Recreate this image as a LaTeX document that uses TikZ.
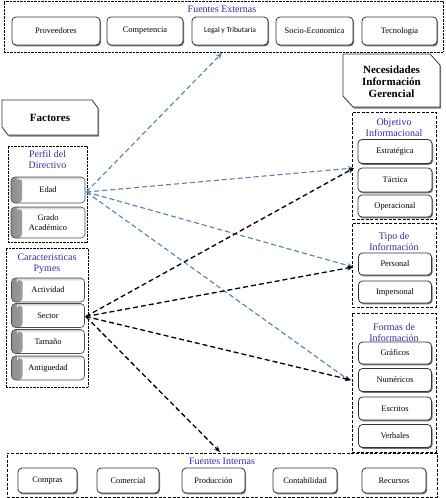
\documentclass[tikz,border=0pt]{standalone}
\usepackage{fontspec}
\setmainfont{Liberation Serif}
\newfontfamily\calib{Carlito}
\usetikzlibrary{shadows,arrows.meta,calc}
\definecolor{ttlblue}{RGB}{45,45,170}
\definecolor{arrblue}{RGB}{79,129,189}
\tikzset{
  sbox/.style={draw=black!80, line width=0.8pt, rounded corners=4pt, fill=white,
    drop shadow={shadow xshift=1pt, shadow yshift=-1.3pt, fill=black!65, opacity=0.85},
    inner sep=0pt, align=center, font=\fontsize{8.4}{9.5}\selectfont},
  lbox/.style={draw=black!70, line width=0.6pt, rounded corners=4pt, fill=white,
    path picture={\shade[left color=black!45, right color=white]
      (path picture bounding box.south west) rectangle ([xshift=11pt]path picture bounding box.north west);
      \shade[top color=black!20, bottom color=white]
      ([xshift=6pt]path picture bounding box.north west) rectangle ([yshift=-3pt]path picture bounding box.north east);},
    inner sep=0pt, align=center, font=\fontsize{8.4}{9.8}\selectfont},
  dotbox/.style={draw, line width=0.7pt, dash pattern=on 0.7pt off 0.7pt, inner sep=0pt},
  dashbox/.style={draw, line width=0.9pt, dash pattern=on 3pt off 1.6pt, inner sep=0pt},
  grptitle/.style={text=ttlblue, font=\fontsize{10}{11}\selectfont, align=center, inner sep=0pt},
  hdrshape/.style={draw=black!80, line width=0.8pt, fill=white,
    drop shadow={shadow xshift=1.2pt, shadow yshift=-1.5pt, fill=black!60, opacity=0.85}},
  hdrtext/.style={font=\fontsize{11}{12}\selectfont\bfseries, align=center, inner sep=0pt},
  barr/.style={arrblue, line width=1.1pt, dash pattern=on 5pt off 3pt, -{Stealth[length=6pt,width=5pt]}},
  karr/.style={black, line width=1.3pt, dash pattern=on 5pt off 3pt, -{Stealth[length=6pt,width=5pt]}},
}
\begin{document}
\begin{tikzpicture}[x=1pt,y=-1pt]
\useasboundingbox (0,0) rectangle (445,498);

% ---- Fuentes Externas ----
\node[dotbox, minimum width=439pt, minimum height=51pt] (ext) at (223.5,26.5) {};
\node[grptitle] (extt) at (222,9.5) {Fuentes Externas};
\node[sbox, minimum width=88pt, minimum height=28pt] (prov) at (56,31) {Proveedores};
\node[sbox, minimum width=76pt, minimum height=28pt] (comp) at (145,31) {Competencia};
\node[sbox, minimum width=76pt, minimum height=28pt, font=\calib\fontsize{7.5}{9}\selectfont] (legal) at (230,31) {Legal y Tributaria};
\node[sbox, minimum width=77pt, minimum height=28pt] (socio) at (314.5,31) {Socio-Economica};
\node[sbox, minimum width=75pt, minimum height=28pt] (tec) at (399.5,31) {Tecnologia};
\coordinate (legtip) at (222,53);

% ---- Headers ----
\path[hdrshape] (2,100) -- (92,100) -- (98,108) -- (98,135) -- (8,135) -- (2,127) -- cycle;
\node[hdrtext] (fact) at (50,118) {Factores};
\path[hdrshape] (343,54) -- (430,54) -- (440,65) -- (440,107) -- (353,107) -- (343,96) -- cycle;
\node[hdrtext] (nec) at (391.5,82) {Necesidades\\Información\\Gerencial};

% ---- Perfil del Directivo ----
\node[dotbox, minimum width=79pt, minimum height=96pt] (perfil) at (47.5,194) {};
\node[grptitle] (perfilt) at (47.5,159.5) {Perfil del\\Directivo};
\node[lbox, minimum width=74pt, minimum height=26pt] (edad) at (48,190) {Edad};
\node[lbox, minimum width=74pt, minimum height=31pt] (grado) at (48,222.5) {Grado\\Académico};

% ---- Caracteristicas Pymes ----
\node[dotbox, minimum width=82pt, minimum height=139pt] (carac) at (47,317.5) {};
\node[grptitle] (caract) at (47,264) {Caracteristicas\\Pymes};
\node[lbox, minimum width=73pt, minimum height=24pt] (activ) at (48,290) {Actividad};
\node[lbox, minimum width=73pt, minimum height=24pt] (sector) at (48,315.5) {Sector};
\node[lbox, minimum width=73pt, minimum height=24pt] (tam) at (48,341.5) {Tamaño};
\node[lbox, minimum width=73pt, minimum height=24pt] (antig) at (48,368) {Antiguedad};

% ---- Objetivo Informacional ----
\node[dashbox, minimum width=84pt, minimum height=107pt] (objet) at (394,165.5) {};
\node[grptitle] (objett) at (394,127.5) {Objetivo\\Informacional};
\node[sbox, minimum width=74pt, minimum height=24pt] (estr) at (395,151.5) {Estratégica};
\node[sbox, minimum width=74pt, minimum height=24pt] (tact) at (395,180) {Táctica};
\node[sbox, minimum width=74pt, minimum height=22pt] (oper) at (395,206) {Operacional};
\coordinate (estrtip) at (354,168);

% ---- Tipo de Informacion ----
\node[dashbox, minimum width=84pt, minimum height=84pt] (tipo) at (394,265) {};
\node[grptitle] (tipot) at (394,241.5) {Tipo de\\Información};
\node[sbox, minimum width=73pt, minimum height=22pt] (pers) at (395,264) {Personal};
\node[sbox, minimum width=73pt, minimum height=22pt] (impers) at (395,292) {Impersonal};

% ---- Formas de Informacion ----
\node[dashbox, minimum width=84pt, minimum height=139pt] (formas) at (394,382.5) {};
\node[grptitle] (formast) at (394,332.5) {Formas de\\Información};
\node[sbox, minimum width=73pt, minimum height=22pt] (graf) at (395,353) {Gráficos};
\node[sbox, minimum width=73pt, minimum height=23pt] (num) at (395,380) {Numéricos};
\node[sbox, minimum width=73pt, minimum height=23pt] (escr) at (395,408.5) {Escritos};
\node[sbox, minimum width=73pt, minimum height=23pt] (verb) at (395,436) {Verbales};

% ---- Fuentes Internas ----
\node[dashbox, minimum width=430pt, minimum height=44pt] (int) at (222,475) {};
\node[grptitle] (intt) at (222,461) {Fuentes Internas};
\node[sbox, minimum width=59pt, minimum height=25pt] (compras) at (47.5,480.5) {Compras};
\node[sbox, minimum width=62pt, minimum height=25pt] (comer) at (128,480.5) {Comercial};
\node[sbox, minimum width=63pt, minimum height=25pt] (prod) at (213.5,480.5) {Producción};
\node[sbox, minimum width=64pt, minimum height=25pt] (conta) at (305,480.5) {Contabilidad};
\node[sbox, minimum width=64pt, minimum height=25pt] (recur) at (394,480.5) {Recursos};
\coordinate (inttip) at (220,452);

% ---- Connectors ----
\coordinate (edsrc) at ($(edad.east)+(1,2)$);
\coordinate (secsrc) at ($(sector.east)+(1,1)$);
\draw[barr] (edsrc) -- (legtip);
\draw[barr] (edsrc) -- (estrtip);
\draw[barr] (edsrc) -- ($(pers.west)+(-5,3)$);
\draw[barr] (edsrc) -- ($(num.west)+(-8,1)$);
\draw[karr] (secsrc) -- (estrtip);
\draw[karr] (secsrc) -- ($(pers.west)+(-5,3)$);
\draw[karr] (secsrc) -- ($(num.west)+(-7,0)$);
\draw[karr] (secsrc) -- (inttip);
\end{tikzpicture}
\end{document}
